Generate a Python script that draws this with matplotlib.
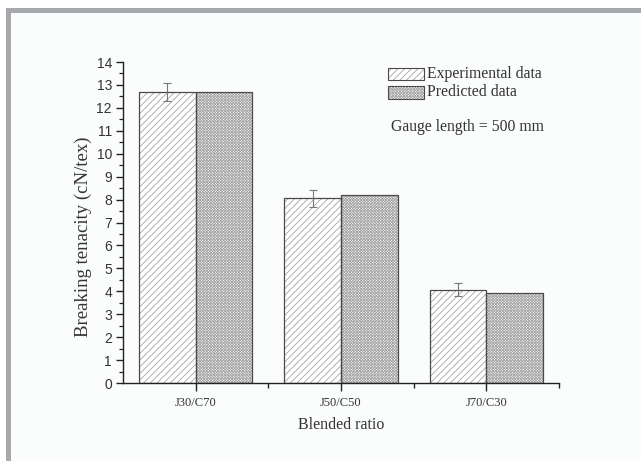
import numpy as np
import matplotlib.pyplot as plt
from matplotlib.patches import Rectangle
from matplotlib.ticker import MultipleLocator, FixedLocator

# =========================
# DATA
# =========================
ratios = ["J30/C70", "J50/C50", "J70/C30"]
experimental = [12.68, 8.06, 4.06]
experimental_err = [0.40, 0.37, 0.28]
predicted = [12.67, 8.20, 3.94]

serif = ["Liberation Serif", "DejaVu Serif"]
sans = ["Liberation Sans", "DejaVu Sans"]

hatch_grey = "#a5a5a5"
edge_dark = "#4a4a4a"
width = 0.39
exp_hatch = "/////"
pred_hatch = "xxxxxxxxxxxx"

fig = plt.figure(figsize=(6.41, 4.61), dpi=100, facecolor="white")

# page background and grey frame on top / left
fig.add_artist(Rectangle((11 / 641, 0), 1, (461 - 13) / 461, transform=fig.transFigure,
                         facecolor="#fbfcfc", edgecolor="none", zorder=-2))
fig.add_artist(Rectangle((6 / 641, (461 - 13) / 461), 1, 5 / 461, transform=fig.transFigure,
                         facecolor="#a8a9ac", edgecolor="none", zorder=-1))
fig.add_artist(Rectangle((6 / 641, 0), 5 / 641, (461 - 8) / 461, transform=fig.transFigure,
                         facecolor="#a8a9ac", edgecolor="none", zorder=-1))

ax = fig.add_axes([123 / 641, 78 / 461, (559 - 123) / 641, (383 - 62) / 461])
ax.set_facecolor("none")

x = np.arange(len(ratios))

plt.rcParams["hatch.linewidth"] = 0.6

# =========================
# BARS
# =========================
ax.bar(x - width / 2, experimental, width, facecolor="white", edgecolor=hatch_grey,
       hatch=exp_hatch, linewidth=0, zorder=2)
ax.bar(x - width / 2, experimental, width, fill=False, edgecolor=edge_dark,
       linewidth=0.9, zorder=3)
ax.bar(x + width / 2, predicted, width, facecolor="white", edgecolor=hatch_grey,
       hatch=pred_hatch, linewidth=0, zorder=2)
ax.bar(x + width / 2, predicted, width, fill=False, edgecolor=edge_dark,
       linewidth=0.9, zorder=3)

ax.errorbar(x - width / 2, experimental, yerr=experimental_err, fmt="none",
            ecolor="#777777", elinewidth=0.8, capsize=3, capthick=0.8, zorder=4)

# =========================
# AXES
# =========================
ax.set_xlim(-0.5, 2.5)
ax.set_ylim(0, 14)
ax.spines["top"].set_visible(False)
ax.spines["right"].set_visible(False)
for s in ("left", "bottom"):
    ax.spines[s].set_linewidth(1.0)
    ax.spines[s].set_color("#222222")

ax.yaxis.set_major_locator(MultipleLocator(1))
ax.yaxis.set_minor_locator(MultipleLocator(0.5))
ax.set_xticks(x)
ax.set_xticklabels(ratios, fontfamily=serif, fontsize=9, color="#333333")
ax.xaxis.set_minor_locator(FixedLocator([0.5, 1.5, 2.5]))

ax.tick_params(axis="y", which="major", direction="out", length=5, width=1.0,
               labelsize=10, color="#222222", labelcolor="#333333", pad=3)
ax.tick_params(axis="y", which="minor", direction="out", length=3, width=0.9, color="#222222")
ax.tick_params(axis="x", which="major", direction="out", length=6, width=1.0, color="#222222", pad=4)
ax.tick_params(axis="x", which="minor", direction="out", length=3.5, width=1.0, color="#222222")
for lab in ax.get_yticklabels():
    lab.set_fontfamily(sans)

ax.set_xlabel("Blended ratio", fontfamily=serif, fontsize=11.5, color="#333333", labelpad=6)
ax.set_ylabel("Breaking tenacity (cN/tex)", fontfamily=serif, fontsize=13.5, color="#333333")
ax.yaxis.set_label_coords(-0.071, 0.455)

# =========================
# LEGEND
# =========================
legend_items = [("Experimental data", exp_hatch), ("Predicted data", pred_hatch)]
for i, (label, hatch) in enumerate(legend_items):
    y0 = 0.944 - i * 0.058
    ax.add_patch(Rectangle((0.608, y0), 0.083, 0.038, transform=ax.transAxes,
                           facecolor="white", edgecolor=hatch_grey, hatch=hatch,
                           linewidth=0, clip_on=False))
    ax.add_patch(Rectangle((0.608, y0), 0.083, 0.038, transform=ax.transAxes,
                           fill=False, edgecolor=edge_dark, linewidth=0.8, clip_on=False))
    ax.text(0.698, y0 + 0.019, label, transform=ax.transAxes, fontfamily=serif,
            fontsize=11.3, color="#333333", va="center", ha="left")

ax.text(0.614, 0.798, "Gauge length = 500 mm", transform=ax.transAxes, fontfamily=serif,
        fontsize=11.3, color="#333333", va="center", ha="left")

plt.savefig("out.png", dpi=100, facecolor=fig.get_facecolor())
